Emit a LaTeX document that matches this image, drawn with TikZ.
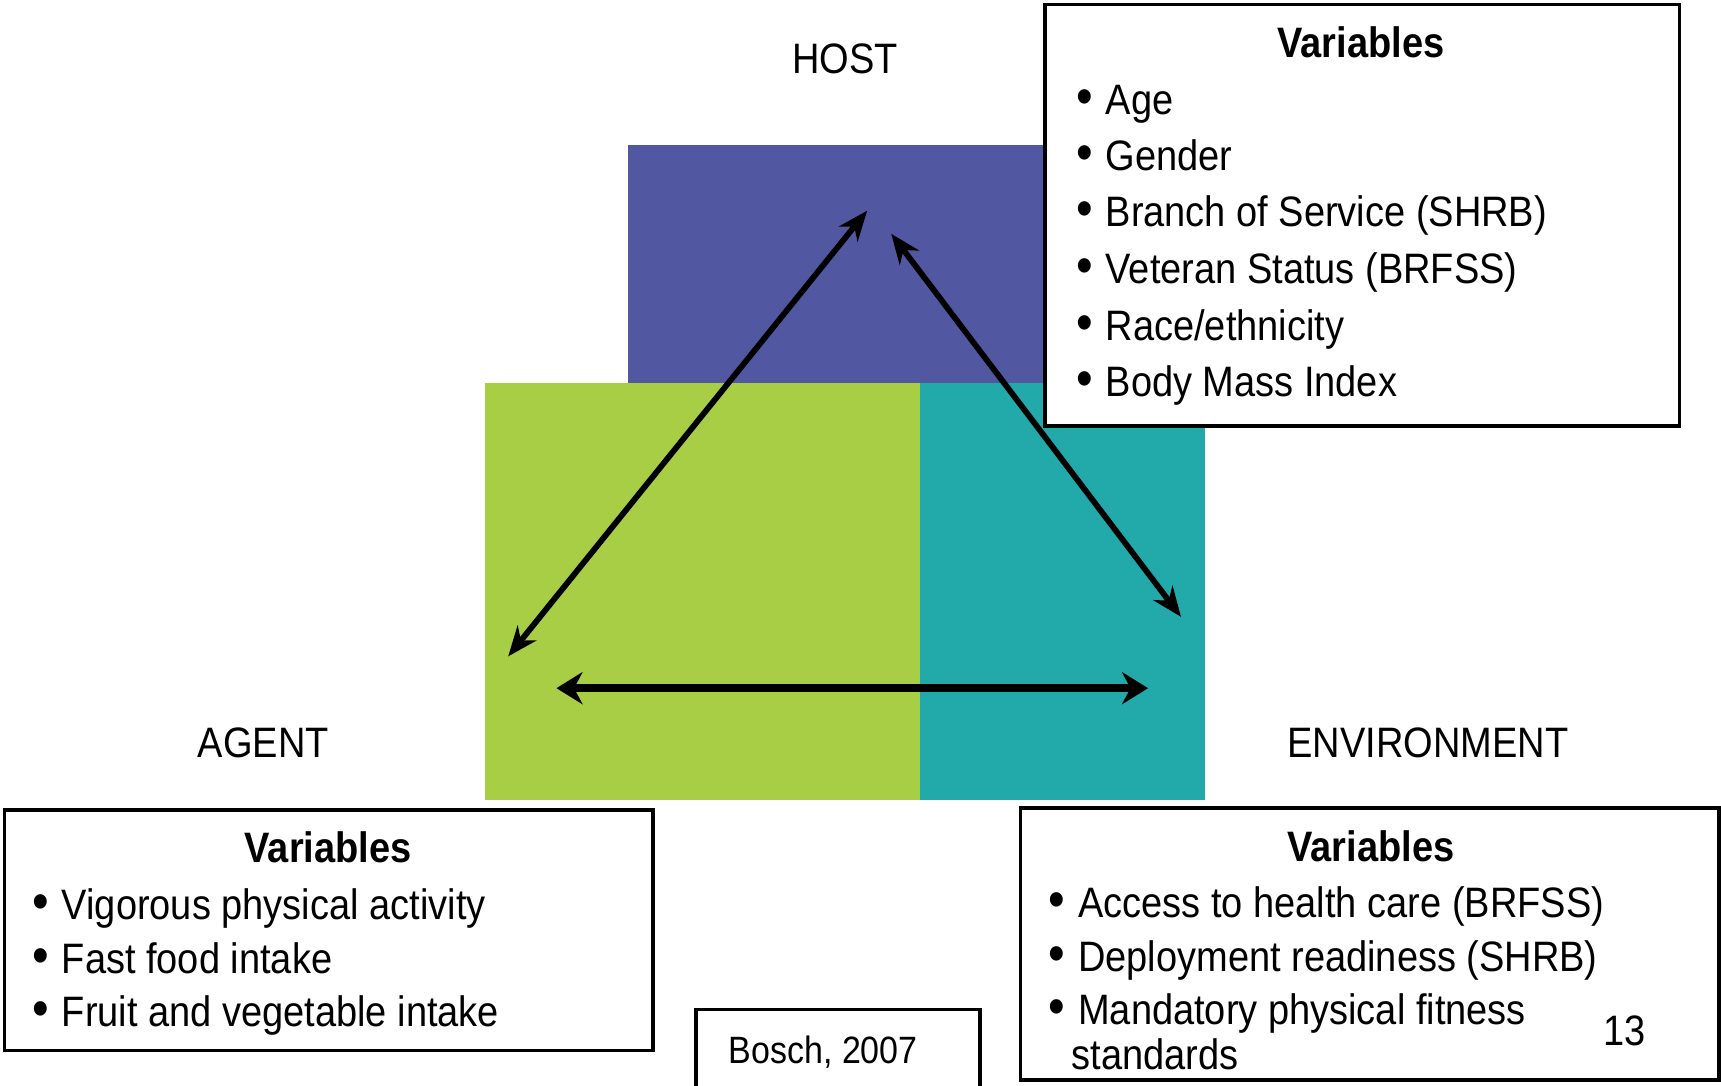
\documentclass[tikz,border=0pt]{standalone}
\usepackage{fontspec}
\usepackage{graphicx}
\setmainfont{Liberation Sans}
\usetikzlibrary{arrows.meta}
\definecolor{hostblue}{RGB}{81,87,161}
\definecolor{agentgreen}{RGB}{168,206,69}
\definecolor{envteal}{RGB}{34,169,170}
\newcommand{\vs}[1]{\scalebox{1}[1.12]{#1}}
\newcommand{\bul}{\scalebox{1.25}{•}}
\begin{document}
\begin{tikzpicture}[x=0.5488pt,y=-0.5488pt,
  lbl/.style={inner sep=0pt,anchor=base,font=\fontsize{19}{22}\selectfont},
  itm/.style={inner sep=0pt,anchor=base west,font=\fontsize{19}{22}\selectfont},
  hd/.style={inner sep=0pt,anchor=base,font=\fontsize{19}{22}\selectfont\bfseries},
  varbox/.style={draw=black,fill=white,line width=1.7pt},
  dbl/.style={line width=2.9pt,{Stealth[length=15pt,width=12pt]}-{Stealth[length=15pt,width=12pt]}},
  dblh/.style={line width=3.8pt,{Stealth[length=13pt,width=16pt]}-{Stealth[length=13pt,width=16pt]}}]
\useasboundingbox[fill=white] (0,0) rectangle (1568,989);
% coloured blocks
\fill[hostblue] (572,132) rectangle (1098,349);
\fill[agentgreen] (442,349) rectangle (838,729);
\fill[envteal] (838,349) rectangle (1098,729);
% arrow ends
\coordinate (hA) at (790,192);
\coordinate (aH) at (463,598);
\coordinate (hE) at (812,213);
\coordinate (eH) at (1076,562);
\coordinate (aE) at (507,627);
\coordinate (eA) at (1046,627);
\draw[dbl] (aH) -- (hA);
\draw[dbl] (hE) -- (eH);
\draw[dblh] (aE) -- (eA);
% labels
\node[lbl] (host) at (770,67) {\vs{HOST}};
\node[lbl] (agent) at (240,690) {\vs{AGENT}};
\node[lbl] (env) at (1301,690) {\vs{ENVIRONMENT}};
% host box
\draw[varbox] (952,4) rectangle (1530,388);
\node[hd] (hv) at (1240,52) {\vs{Variables}};
\foreach \y/\t [count=\i] in {104/{Age},155/{Gender},206/{Branch of Service (SHRB)},258/{Veteran Status (BRFSS)},310/{Race/ethnicity},361/{Body Mass Index}}{
  \node[itm] (hb\i) at (980,\y) {\vs{\bul}};
  \node[itm] (ht\i) at (1007,\y) {\vs{\t}};
}
% agent box
\draw[varbox] (4,738) rectangle (595,957);
\node[hd] (av) at (299,786) {\vs{Variables}};
\foreach \y/\t [count=\i] in {838/{Vigorous physical activity},887/{Fast food intake},935/{Fruit and vegetable intake}}{
  \node[itm] (ab\i) at (29,\y) {\vs{\bul}};
  \node[itm] (at\i) at (56,\y) {\vs{\t}};
}
% environment box
\draw[varbox] (930,736) rectangle (1566,984);
\node[hd] (ev) at (1249,785) {\vs{Variables}};
\foreach \y/\t [count=\i] in {836/{Access to health care (BRFSS)},885/{Deployment readiness (SHRB)},933/{Mandatory physical fitness}}{
  \node[itm] (eb\i) at (955,\y) {\vs{\bul}};
  \node[itm] (et\i) at (982,\y) {\vs{\t}};
}
\node[itm] (et4) at (976,974) {\vs{standards}};
% citation box
\draw[line width=1.7pt] (634,995) -- (634,920) -- (893,920) -- (893,995);
\node[lbl,font=\fontsize{17}{20}\selectfont] (cite) at (750,969) {\vs{Bosch, 2007}};
\node[lbl] (page) at (1480,953) {\vs{13}};
\end{tikzpicture}
\end{document}
